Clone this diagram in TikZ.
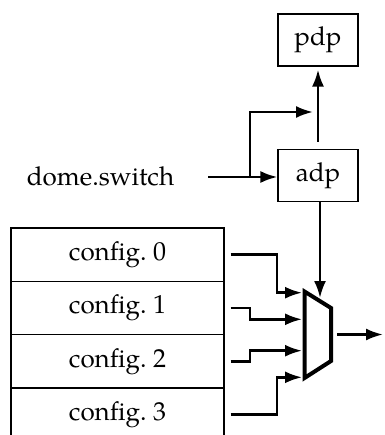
\documentclass[tikz,border=0pt]{standalone}
\usepackage{fontspec}
\setmainfont{TeX Gyre Pagella}
\usetikzlibrary{arrows.meta,calc}
\begin{document}
\begin{tikzpicture}[x=1pt,y=-1pt,
  every node/.style={font=\fontsize{26}{31}\selectfont},
  blk/.style={draw,line width=1.2pt,minimum width=80pt,minimum height=52pt,inner sep=0pt},
  cfg/.style={draw,line width=1.2pt,minimum width=213pt,minimum height=53.3pt,inner sep=0pt},
  arr/.style={line width=2.5pt,-{Latex[length=17pt,width=12pt]}},
  muxline/.style={line width=4pt,line join=miter}]
\useasboundingbox (0,0) rectangle (384,435);
% blocks
\node[blk] (pdp) at (318,40) {pdp};
\node[blk] (adp) at (318,175.5) {adp};
\node (dome) at (100.5,176) {dome.switch};
% config table
\node[cfg] (c0) at (117.5,254.7) {config.\ 0};
\node[cfg] (c1) at (117.5,308) {config.\ 1};
\node[cfg] (c2) at (117.5,361.3) {config.\ 2};
\node[cfg] (c3) at (117.5,414.6) {config.\ 3};
% coordinates
\coordinate (ds) at (208,177);
\coordinate (br) at (250,177);
\coordinate (brt) at (313,112);
\coordinate (m1) at (304.5,291.5);
\coordinate (m2) at (331,308);
\coordinate (m3) at (331,361);
\coordinate (m4) at (304.5,378);
\coordinate (sel) at (320,298);
\coordinate (k0) at (277,292.7);
\coordinate (k1) at (250,319.3);
\coordinate (k2) at (250,350.7);
\coordinate (k3) at (277,377.3);
\coordinate (in0) at (302,292.7);
\coordinate (in1) at (302,319.3);
\coordinate (in2) at (302,350.7);
\coordinate (in3) at (302,377.3);
\coordinate (o0) at (337,334.5);
\coordinate (o1) at (383,334.5);
% mux
\draw[muxline] (m1) -- (m2) -- (m3) -- (m4) -- cycle;
% connectors
\draw[arr] (ds) -- (ds -| adp.west);
\draw[arr] (br) |- (brt);
\draw[arr,shorten <=7pt,shorten >=3pt] (adp.north) -- (pdp.south);
\draw[arr] (sel |- adp.south) -- (sel);
\draw[arr,shorten <=6pt] (c0.east) -| (k0) -- (in0);
\draw[arr,shorten <=6pt] (c1.east) -| (k1) -- (in1);
\draw[arr,shorten <=6pt] (c2.east) -| (k2) -- (in2);
\draw[arr,shorten <=6pt] (c3.east) -| (k3) -- (in3);
\draw[arr] (o0) -- (o1);
\end{tikzpicture}
\end{document}
